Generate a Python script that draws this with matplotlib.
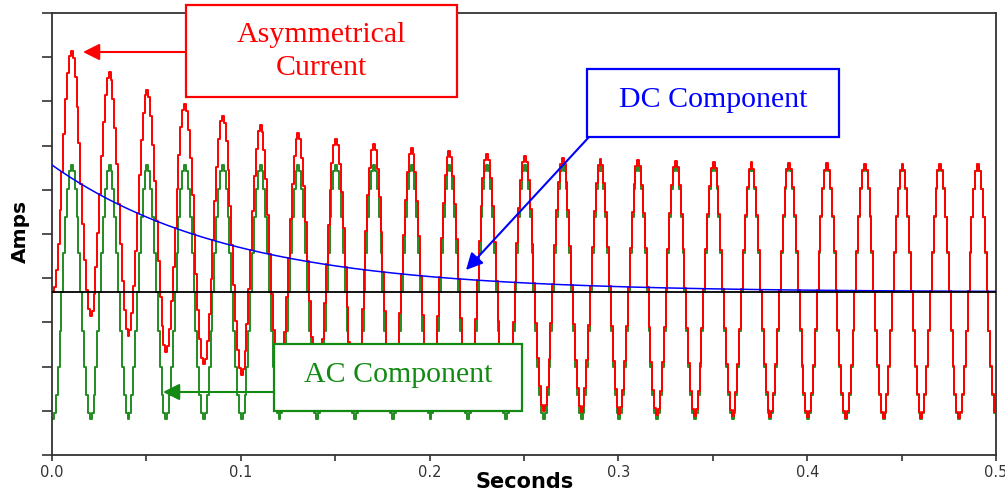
import numpy as np
import matplotlib
matplotlib.use('Agg')
import matplotlib.pyplot as plt
from matplotlib.patches import Rectangle

# === Values ===
freq_hz = 50.0          # one cycle every 0.02 s
ac_amp = 1.0            # AC peak (green)
dc_start = 1.0          # DC offset at t=0 equals AC peak (fully offset)
dc_tau = 0.095          # DC decay time constant, s
sample_dt = 0.001       # sample-and-hold step of the trace
t_end = 0.5

x_ticks = [0.0, 0.1, 0.2, 0.3, 0.4, 0.5]
x_tick_labels = ['0.0', '0.1', '0.2', '0.3', '0.4', '0.5']
y_range = (-1.283, 2.197)

# === Build traces ===
t = np.arange(0, t_end + sample_dt / 2, sample_dt)
ac = -ac_amp * np.cos(2 * np.pi * freq_hz * t)
t_dc = np.linspace(0, t_end, 400)
dc_smooth = dc_start * np.exp(-t_dc / dc_tau)
asym = ac + dc_start * np.exp(-t / dc_tau)

W, H = 1005, 492
fig = plt.figure(figsize=(W / 100, H / 100), dpi=100)
ax = fig.add_axes([52 / W, 1 - 455 / H, (996 - 52) / W, (455 - 13) / H])

ax.plot(t, ac, color='#228b22', lw=1.4, drawstyle='steps-post', zorder=2)
ax.plot(t, asym, color='#ff0000', lw=1.4, drawstyle='steps-post', zorder=3)
ax.plot(t_dc, dc_smooth, color='#0000ff', lw=1.1, zorder=4)
ax.axhline(0, color='black', lw=1.3, zorder=5)

ax.set_xlim(0, t_end)
ax.set_ylim(*y_range)
ax.set_xticks(x_ticks)
ax.set_xticklabels(x_tick_labels)
ax.set_xticks(np.arange(0.05, 0.5, 0.1), minor=True)
ax.set_yticks(np.linspace(y_range[0], y_range[1], 11))
ax.set_yticklabels([])
ax.tick_params(axis='x', which='both', direction='out', length=4, width=1.2,
               pad=3, labelsize=10.5, labelcolor='#333333', color='#333333')
ax.tick_params(axis='y', direction='out', length=7, width=1.2, color='#333333')
for s in ax.spines.values():
    s.set_linewidth(1.3)
    s.set_color('#333333')

ax.set_xlabel('Seconds', fontsize=15, fontweight='bold', family='DejaVu Sans')
ax.xaxis.set_label_coords(0.501, -0.038)
ax.set_ylabel('Amps', fontsize=14.5, fontweight='bold', family='DejaVu Sans')
ax.yaxis.set_label_coords(-0.023, 0.505)


def px(x, y):
    return (x / W, 1 - y / H)


def box(x0, y0, x1, y1, color):
    r = Rectangle(px(x0, y1), (x1 - x0) / W, (y1 - y0) / H, transform=fig.transFigure,
                  facecolor='white', edgecolor=color, lw=1.6, zorder=10, clip_on=False)
    fig.add_artist(r)


def arrow(tail, tip, color):
    ax.annotate('', xy=(tip[0], H - tip[1]), xytext=(tail[0], H - tail[1]),
                xycoords='figure pixels', textcoords='figure pixels',
                arrowprops=dict(arrowstyle='-|>,head_length=1.0,head_width=0.5',
                                mutation_scale=10, color=color, lw=1.5,
                                shrinkA=0, shrinkB=0), zorder=9)


serif = dict(family='Liberation Serif', fontsize=21.5, ha='center', va='baseline', zorder=11)

box(186, 5, 457, 97, '#ff0000')
fig.text(*px(321.5, 42), 'Asymmetrical', color='#ff0000', **serif)
fig.text(*px(321.5, 75), 'Current', color='#ff0000', **serif)
arrow((186, 52), (83, 52), '#ff0000')

box(587, 69, 839, 137, '#0000ff')
fig.text(*px(713, 107), 'DC Component', color='#0000ff', **serif)
arrow((589, 137), (466, 270), '#0000ff')

box(274, 344, 522, 411, '#138a13')
fig.text(*px(398, 382), 'AC Component', color='#138a13', **serif)
arrow((274, 392), (163, 392), '#138a13')

fig.savefig('out.png', dpi=100)
